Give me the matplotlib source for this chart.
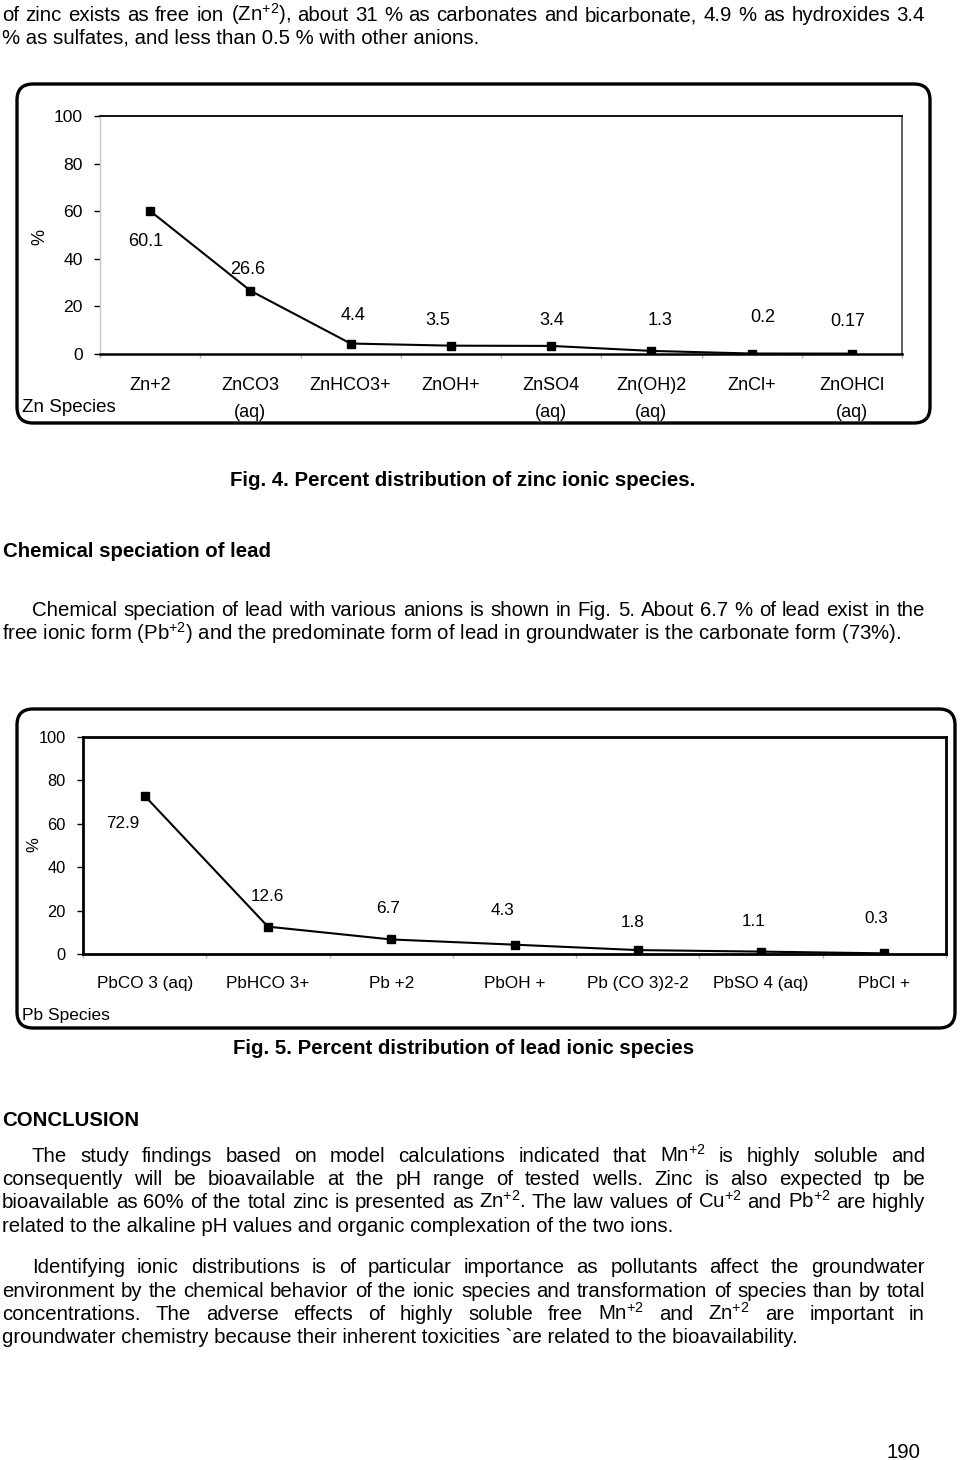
import matplotlib
matplotlib.use('Agg')
import matplotlib.pyplot as plt
from matplotlib.patches import FancyBboxPatch
import numpy as np

plt.rcParams['font.family'] = ['Liberation Sans', 'DejaVu Sans']
plt.rcParams['mathtext.fontset'] = 'custom'
plt.rcParams['mathtext.rm'] = 'Liberation Sans'

# ---- data ----
zn_species = ['Zn+2', 'ZnCO3\n(aq)', 'ZnHCO3+', 'ZnOH+', 'ZnSO4\n(aq)',
              'Zn(OH)2\n(aq)', 'ZnCl+', 'ZnOHCl\n(aq)']
zn_percent = [60.1, 26.6, 4.4, 3.5, 3.4, 1.3, 0.2, 0.17]
zn_value_text = ['60.1', '26.6', '4.4', '3.5', '3.4', '1.3', '0.2', '0.17']

pb_species = ['PbCO 3 (aq)', 'PbHCO 3+', 'Pb +2', 'PbOH +', 'Pb (CO 3)2-2',
              'PbSO 4 (aq)', 'PbCl +']
pb_percent = [72.9, 12.6, 6.7, 4.3, 1.8, 1.1, 0.3]
pb_value_text = ['72.9', '12.6', '6.7', '4.3', '1.8', '1.1', '0.3']

y_ticks = [0, 20, 40, 60, 80, 100]

# label offsets from the markers (pixels), style only
zn_offsets = [(-4, -31), (-3, 21), (2, 28), (-13, 25), (1, 25), (9, 30), (11, 36), (-4, 32)]
pb_offsets = [(-22, -28), (0, 30), (-3, 31), (-12, 34), (-5, 28), (-7, 30), (-8, 35)]

SUP = r'$^{\mathregular{+2}}$'
BODY = 14.7

W, H = 960, 1460
fig = plt.figure(figsize=(W / 100, H / 100), dpi=100)
page = fig.add_axes([0, 0, 1, 1])
page.set_xlim(0, W)
page.set_ylim(H, 0)
page.axis('off')
renderer = fig.canvas.get_renderer()


def pxRect(left, top, right, bottom):
    '''pixel box -> figure fraction rect'''
    return [left / W, 1 - bottom / H, (right - left) / W, (bottom - top) / H]


def putLine(text, x0, y, x1=None, weight='normal', size=BODY):
    '''
    Writes one line of text at baseline y. If x1 is given the words are
    spread so the line is justified between x0 and x1
    '''
    if x1 is None:
        page.text(x0, y, text, fontsize=size, weight=weight, va='baseline', ha='left')
        return
    words = text.split()
    texts = [page.text(x0, y, w, fontsize=size, weight=weight, va='baseline', ha='left')
             for w in words]
    widths = [t.get_window_extent(renderer).width for t in texts]
    gap = (x1 - x0 - sum(widths)) / (len(words) - 1)
    x = x0
    for t, w in zip(texts, widths):
        t.set_x(x)
        x += w + gap


def roundBox(left, top, right, bottom):
    page.add_patch(FancyBboxPatch((left, top), right - left, bottom - top,
                                  boxstyle='round,pad=0,rounding_size=16',
                                  lw=2.4, ec='black', fc='none', clip_on=False))


def lineChart(rect, species, values, value_text, offsets, tick_size, label_size, lab_pad):
    ax = fig.add_axes(rect)
    n = len(species)
    x = np.arange(n)
    ax.plot(x, values, color='black', lw=1.5, marker='s', ms=5.5, mfc='black', mec='black')
    for i in range(n):
        ax.annotate(value_text[i], (x[i], values[i]), xytext=offsets[i],
                    textcoords='offset pixels', ha='center', va='center',
                    fontsize=label_size)
    ax.set_xlim(-0.5, n - 0.5)
    ax.set_ylim(0, 100)
    ax.set_yticks(y_ticks)
    ax.tick_params(axis='y', length=4.5, width=1, color='black', labelsize=tick_size, pad=8)
    ax.set_xticks(np.arange(-0.5, n, 1))
    ax.set_xticklabels([])
    ax.tick_params(axis='x', which='major', length=3, width=1, color='#b0b0b0')
    ax.set_xticks(x, minor=True)
    ax.set_xticklabels(species, minor=True, fontsize=label_size, linespacing=1.75)
    ax.tick_params(axis='x', which='minor', length=0, pad=lab_pad)
    return ax


# ---- top text ----
putLine('of zinc exists as free ion (Zn' + SUP + '), about 31 % as carbonates and '
        'bicarbonate, 4.9 % as hydroxides 3.4', 2, 21, 925)
putLine('% as sulfates, and less than 0.5 % with other anions.', 2, 44)

# ---- Fig. 4 zinc ----
roundBox(17, 84, 930, 423)
zn_ax = lineChart(pxRect(100, 116, 902, 354), zn_species, zn_percent, zn_value_text,
                  zn_offsets, 12.6, 13, 16.5)
zn_ax.spines['left'].set_color('#c8c8c8')
zn_ax.spines['left'].set_linewidth(1)
zn_ax.spines['top'].set_linewidth(1.3)
zn_ax.spines['right'].set_color('#444444')
zn_ax.spines['right'].set_linewidth(1.2)
zn_ax.spines['bottom'].set_linewidth(1.8)
page.text(40, 237, '%', fontsize=13, rotation=90, ha='center', va='center')
page.text(22, 412, 'Zn Species', fontsize=13.5, va='baseline')

putLine('Fig. 4. Percent distribution of zinc ionic species.', 230, 486, weight='bold')

# ---- lead section text ----
putLine('Chemical speciation of lead', 3, 557, weight='bold')
putLine('Chemical speciation of lead with various anions is shown in Fig. 5. '
        'About 6.7 % of lead exist in the', 32, 616, 925)
putLine('free ionic form (Pb' + SUP + ') and the predominate form of lead in groundwater '
        'is the carbonate form (73%).', 2, 640)

# ---- Fig. 5 lead ----
roundBox(17, 709, 955, 1028)
pb_ax = lineChart(pxRect(83, 737, 946, 954), pb_species, pb_percent, pb_value_text,
                  pb_offsets, 11.8, 12.3, 16)
for side in ['left', 'right', 'top', 'bottom']:
    pb_ax.spines[side].set_linewidth(2)
page.text(34, 845, '%', fontsize=12, rotation=90, ha='center', va='center')
page.text(22, 1020, 'Pb Species', fontsize=12.5, va='baseline')

putLine('Fig. 5. Percent distribution of lead ionic species', 233, 1054, weight='bold')

# ---- conclusion ----
putLine('CONCLUSION', 2, 1126, weight='bold')
putLine('The study findings based on model calculations indicated that Mn' + SUP +
        ' is highly soluble and', 32, 1162, 925)
putLine('consequently will be bioavailable at the pH range of tested wells. '
        'Zinc is also expected tp be', 2, 1185, 925)
putLine('bioavailable as 60% of the total zinc is presented as Zn' + SUP +
        '. The law values of Cu' + SUP + ' and Pb' + SUP + ' are highly', 2, 1208, 925)
putLine('related to the alkaline pH values and organic complexation of the two ions.', 2, 1232)

putLine('Identifying ionic distributions is of particular importance as pollutants '
        'affect the groundwater', 32, 1273, 925)
putLine('environment by the chemical behavior of the ionic species and transformation '
        'of species than by total', 2, 1297, 925)
putLine('concentrations. The adverse effects of highly soluble free Mn' + SUP +
        ' and Zn' + SUP + '  are important in', 2, 1320, 925)
putLine('groundwater chemistry because their inherent toxicities `are related to the '
        'bioavailability.', 2, 1343)

page.text(920, 1458, '190', fontsize=BODY, ha='right', va='baseline')

fig.savefig('out.png', dpi=100)
